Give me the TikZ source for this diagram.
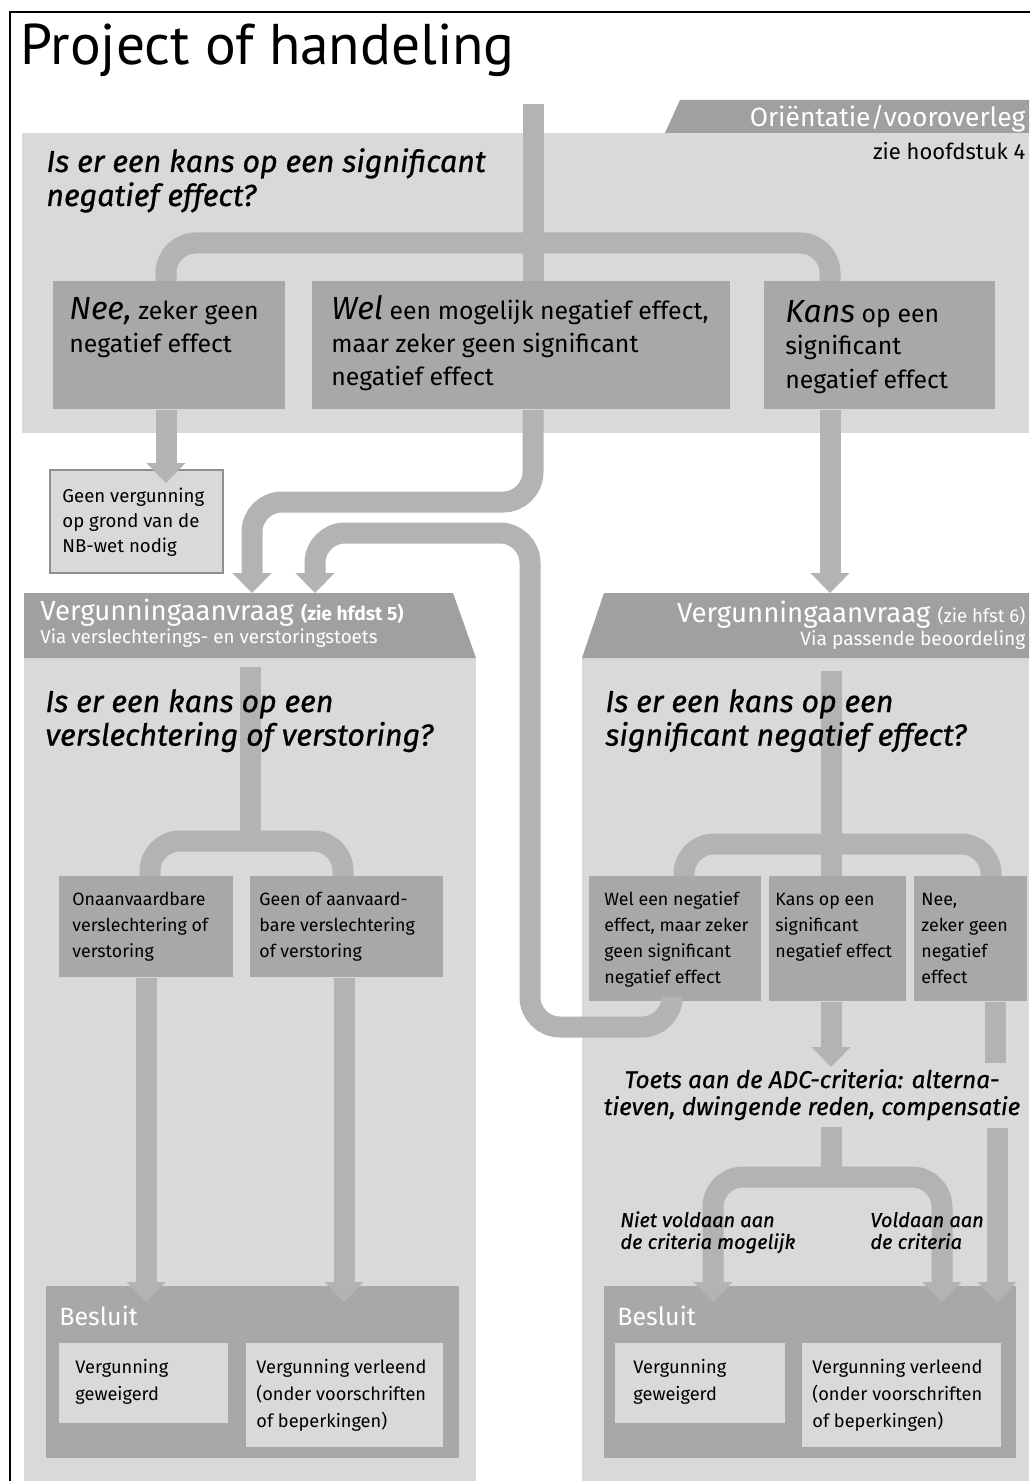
\documentclass[tikz,border=0pt]{standalone}
\usepackage{fontspec}
\setmainfont{Fira Sans}
\newfontfamily\titlefont{PT Sans}
\newfontfamily\qfont{Fira Sans}[FakeBold=0.8]
\usetikzlibrary{arrows.meta}
\definecolor{panelgray}{HTML}{D9D9D9}
\definecolor{boxgray}{HTML}{A8A8A8}
\definecolor{conngray}{HTML}{B3B3B3}
\definecolor{hdrgray}{HTML}{A0A0A0}
% text lines, first baseline on the node's base
\newcommand\ml[1]{\begin{tabular}[t]{@{}l@{}}#1\end{tabular}}
\newcommand\mc[1]{\begin{tabular}[t]{@{}c@{}}#1\end{tabular}}
\tikzset{
  panel/.style={fill=panelgray, inner sep=0pt, anchor=north west},
  box/.style={fill=boxgray, inner sep=0pt, anchor=north west},
  inbox/.style={fill=panelgray, inner sep=0pt, anchor=north west},
  conn/.style={draw=conngray, line width=10.5pt, rounded corners=15pt},
  arr/.style={conn, -{Triangle[width=19pt,length=10pt]}},
  txt/.style={anchor=base west, inner sep=0pt},
  boxtxt/.style={txt, font=\fontsize{8.9}{13}\selectfont},
  quest/.style={txt, font=\qfont\itshape\fontsize{15.2}{17}\selectfont},
  hdrtxt/.style={inner sep=0pt, text=white}
}
\begin{document}
\begin{tikzpicture}[x=0.5pt,y=-0.5pt]
\useasboundingbox (0,0) rectangle (1029,1481);
\draw[line width=1.2pt] (10,1500) -- (10,12) -- (1040,12);

% background panels and headers
\node[panel, minimum width=503.5pt, minimum height=150pt] (orient) at (22,133) {};
\fill[hdrgray] (665,133) -- (680,100) -- (1029,100) -- (1029,133) -- cycle;
\node[panel, minimum width=226pt, minimum height=412pt] (lpanel) at (24,658) {};
\node[panel, minimum width=223.5pt, minimum height=412pt] (rpanel) at (582,658) {};
\fill[hdrgray] (24,593) -- (453,593) -- (476,658) -- (24,658) -- cycle;
\fill[hdrgray] (604,593) -- (1029,593) -- (1029,658) -- (582,658) -- cycle;
\node[inner sep=0pt, anchor=north west, minimum width=214.5pt, minimum height=32.5pt] (lhdr) at (24,593) {};
\node[inner sep=0pt, anchor=north west, minimum width=212.5pt, minimum height=32.5pt] (rhdr) at (604,593) {};

% boxes
\node[box, minimum width=116pt, minimum height=64pt] (nee) at (53,281) {};
\node[box, minimum width=209pt, minimum height=64pt] (wel) at (312,281) {};
\node[box, minimum width=115.5pt, minimum height=64pt] (kans) at (764,281) {};
\node[inbox, draw=boxgray!85!black, line width=0.9pt, minimum width=86.5pt, minimum height=51.5pt] (geen) at (49,469) {};
\node[box, minimum width=87pt, minimum height=50.5pt] (onaan) at (59,876) {};
\node[box, minimum width=96.5pt, minimum height=50.5pt] (geenof) at (250,876) {};
\node[box, minimum width=86pt, minimum height=62.5pt] (rwel) at (589,876) {};
\node[box, minimum width=68.5pt, minimum height=62.5pt] (rkans) at (769,876) {};
\node[box, minimum width=56.5pt, minimum height=62.5pt] (rnee) at (914,876) {};
\node[box, minimum width=206.5pt, minimum height=86pt] (lbes) at (46,1286) {};
\node[box, minimum width=206pt, minimum height=86pt] (rbes) at (604,1286) {};
\node[inbox, minimum width=84.5pt, minimum height=40pt] (lweig) at (59,1343) {};
\node[inbox, minimum width=98.5pt, minimum height=52pt] (lverl) at (246,1343) {};
\node[inbox, minimum width=85pt, minimum height=40pt] (rweig) at (615,1343) {};
\node[inbox, minimum width=99.5pt, minimum height=52pt] (rverl) at (802,1343) {};

% connectors
\coordinate (top) at (533,104);
\coordinate (fork1) at (533,243);
\coordinate (fl1) at (166,243);
\coordinate (fr1) at (830,243);
\coordinate (drop1) at (252,502);
\coordinate (loop1) at (672,1027);
\coordinate (loop2) at (530,533);
\coordinate (drop2) at (315,533);
\draw[conn] (top) -- (top |- wel.north);
\draw[conn] (nee.north -| fl1) |- (fork1) -| (kans.north -| fr1);
\draw[arr, shorten >=-7pt] (nee.south -| fl1) -- (geen.north -| fl1);
\draw[arr] (wel.south -| top) |- (drop1) -- (lhdr.north -| drop1);
\draw[arr] (rwel.south -| loop1) |- (loop2 |- loop1) |- (drop2) -- (lhdr.north -| drop2);
\draw[arr] (kans.south -| fr1) -- (rhdr.north -| fr1);

\coordinate (lstart) at (250,667);
\coordinate (lfork) at (250,841);
\coordinate (lfl) at (150,841);
\coordinate (lfr) at (343,841);
\coordinate (ld1) at (146,1290);
\coordinate (ld2) at (344,1290);
\draw[conn] (lstart) -- (lfork);
\draw[conn] (onaan.north -| lfl) |- (lfork) -| (geenof.north -| lfr);
\draw[arr, shorten >=-8pt] (onaan.south -| ld1) -- (lbes.north -| ld1);
\draw[arr, shorten >=-8pt] (geenof.south -| ld2) -- (lbes.north -| ld2);

\coordinate (rstart) at (831,671);
\coordinate (rfork) at (831,844);
\coordinate (rfl) at (684,844);
\coordinate (rfr) at (991,844);
\coordinate (ttip) at (831,1067);
\coordinate (gap1) at (995,1063);
\coordinate (gap2) at (997,1128);
\coordinate (tstart) at (831,1127);
\coordinate (tfork) at (831,1177);
\coordinate (tfl) at (713,1177);
\coordinate (tfr) at (942,1177);
\draw[conn] (rstart) -- (rkans.north -| rstart);
\draw[conn] (rwel.north -| rfl) |- (rfork) -| (rnee.north -| rfr);
\draw[arr] (rkans.south -| ttip) -- (ttip);
\draw[conn] (rnee.south -| gap1) -- (gap1);
\draw[arr, shorten >=-8pt] (gap2) -- (rbes.north -| gap2);
\draw[conn] (tstart) -- (tfork);
\draw[arr, shorten >=-8pt] (tfork) -| (rbes.north -| tfl);
\draw[arr, shorten >=-8pt] (tfork) -| (rbes.north -| tfr);

% texts
\node[anchor=base west, inner sep=0pt, font=\titlefont\fontsize{28.7}{34}\selectfont] (title) at (20,65) {Project of handeling};
\node[hdrtxt, anchor=base east, font=\fontsize{13.2}{15}\selectfont] (orienttxt) at ([xshift=-2pt,yshift=3pt]orient.north east) {Oriëntatie/vooroverleg};
\node[inner sep=0pt, anchor=base east, font=\fontsize{11}{13}\selectfont] (zie4) at ([xshift=-2pt,yshift=-13.5pt]orient.north east) {zie hoofdstuk 4};
\node[quest] (q1) at ([xshift=12pt,yshift=-19.5pt]orient.north west) {\ml{Is er een kans op een significant\\negatief effect?}};
\node[txt, font=\fontsize{12.4}{16.5}\selectfont] (neetxt) at ([xshift=8pt,yshift=-19.5pt]nee.north west) {\ml{{\itshape\fontsize{16}{16}\selectfont Nee,} zeker geen\\negatief effect}};
\node[txt, font=\fontsize{12.4}{16.5}\selectfont] (weltxt) at ([xshift=9.5pt,yshift=-19.5pt]wel.north west) {\ml{{\itshape\fontsize{16}{16}\selectfont Wel} een mogelijk negatief effect,\\maar zeker geen significant\\negatief effect}};
\node[txt, font=\fontsize{12.4}{16.5}\selectfont] (kanstxt) at ([xshift=10.5pt,yshift=-20.5pt]kans.north west) {\ml{{\itshape\fontsize{16}{16}\selectfont Kans} op een\\significant\\negatief effect}};
\node[txt, font=\fontsize{9.3}{12.5}\selectfont] (geentxt) at ([xshift=6.5pt,yshift=-16.5pt]geen.north west) {\ml{Geen vergunning\\op grond van de\\NB-wet nodig}};

\node[hdrtxt, anchor=base west, font=\fontsize{13.8}{15}\selectfont] (lhdrtxt) at ([xshift=8pt,yshift=-13.5pt]lhdr.north west) {Vergunningaanvraag {\bfseries\fontsize{9.6}{12}\selectfont (zie hfdst 5)}};
\node[hdrtxt, anchor=base west, font=\fontsize{9.4}{11}\selectfont] (lhdrsub) at ([xshift=8pt,yshift=-25pt]lhdr.north west) {Via verslechterings- en verstoringstoets};
\node[hdrtxt, anchor=base east, font=\fontsize{13.8}{15}\selectfont] (rhdrtxt) at ([xshift=-2pt,yshift=-14.5pt]rhdr.north east) {Vergunningaanvraag {\fontsize{9.3}{12}\selectfont (zie hfst 6)}};
\node[hdrtxt, anchor=base east, font=\fontsize{9.6}{11}\selectfont] (rhdrsub) at ([xshift=-2pt,yshift=-26pt]rhdr.north east) {Via passende beoordeling};

\node[quest, font=\qfont\itshape\fontsize{15.2}{16.5}\selectfont] (q2) at ([xshift=10.5pt,yshift=-27pt]lpanel.north west) {\ml{Is er een kans op een\\verslechtering of verstoring?}};
\node[quest, font=\qfont\itshape\fontsize{15.2}{16.5}\selectfont] (q3) at ([xshift=11.5pt,yshift=-27pt]rpanel.north west) {\ml{Is er een kans op een\\significant negatief effect?}};

\node[boxtxt] (onaantxt) at ([xshift=6.5pt,yshift=-14.5pt]onaan.north west) {\ml{Onaanvaardbare\\verslechtering of\\verstoring}};
\node[boxtxt] (geenoftxt) at ([xshift=4.5pt,yshift=-14.5pt]geenof.north west) {\ml{Geen of aanvaard-\\bare verslechtering\\of verstoring}};
\node[boxtxt] (rweltxt) at ([xshift=7.5pt,yshift=-14.5pt]rwel.north west) {\ml{Wel een negatief\\effect, maar zeker\\geen significant\\negatief effect}};
\node[boxtxt] (rkanstxt) at ([xshift=3pt,yshift=-14.5pt]rkans.north west) {\ml{Kans op een\\significant\\negatief effect}};
\node[boxtxt] (rneetxt) at ([xshift=3.5pt,yshift=-14.5pt]rnee.north west) {\ml{Nee,\\zeker geen\\negatief\\effect}};

\node[anchor=base, inner sep=0pt, font=\qfont\itshape\fontsize{12.1}{13.5}\selectfont] (toets) at (812,1088) {\mc{Toets aan de ADC-criteria: alterna-\\tieven, dwingende reden, compensatie}};
\node[txt, font=\qfont\itshape\fontsize{10}{10.5}\selectfont] (niet) at (620,1227) {\ml{Niet voldaan aan\\de criteria mogelijk}};
\node[txt, font=\qfont\itshape\fontsize{10}{10.5}\selectfont] (voldaan) at (870,1227) {\ml{Voldaan aan\\de criteria}};

\node[hdrtxt, anchor=base west, font=\fontsize{12.5}{15}\selectfont] (lbestxt) at ([xshift=6.5pt,yshift=-19.5pt]lbes.north west) {Besluit};
\node[hdrtxt, anchor=base west, font=\fontsize{12.5}{15}\selectfont] (rbestxt) at ([xshift=6.5pt,yshift=-19.5pt]rbes.north west) {Besluit};
\node[boxtxt, font=\fontsize{9.1}{13.5}\selectfont] (lweigtxt) at ([xshift=8pt,yshift=-15pt]lweig.north west) {\ml{Vergunning\\geweigerd}};
\node[boxtxt, font=\fontsize{9.1}{13.5}\selectfont] (lverltxt) at ([xshift=5pt,yshift=-15pt]lverl.north west) {\ml{Vergunning verleend\\(onder voorschriften\\of beperkingen)}};
\node[boxtxt, font=\fontsize{9.1}{13.5}\selectfont] (rweigtxt) at ([xshift=9pt,yshift=-15pt]rweig.north west) {\ml{Vergunning\\geweigerd}};
\node[boxtxt, font=\fontsize{9.1}{13.5}\selectfont] (rverltxt) at ([xshift=5pt,yshift=-15pt]rverl.north west) {\ml{Vergunning verleend\\(onder voorschriften\\of beperkingen)}};
\end{tikzpicture}
\end{document}
